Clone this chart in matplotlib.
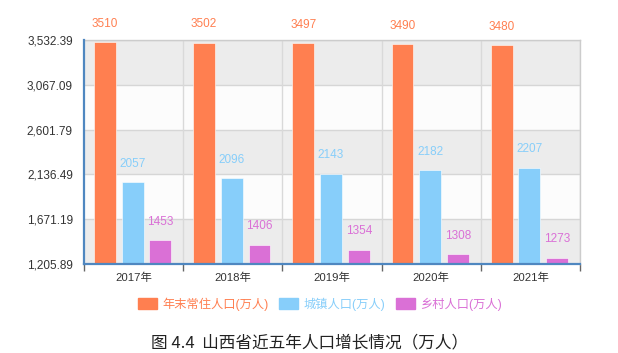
import numpy as np
import matplotlib
matplotlib.use('Agg')
import matplotlib.pyplot as plt
import matplotlib.patches as mpatches

plt.rcParams['font.family'] = ['Liberation Sans', 'Noto Sans CJK SC', 'DejaVu Sans']

# data
years = ['2017年', '2018年', '2019年', '2020年', '2021年']
total = [3510, 3502, 3497, 3490, 3480]
urban = [2057, 2096, 2143, 2182, 2207]
rural = [1453, 1406, 1354, 1308, 1273]
series_names = ['年末常住人口(万人)', '城镇人口(万人)', '乡村人口(万人)']
ytick_values = [1205.89, 1671.19, 2136.49, 2601.79, 3067.09, 3532.39]

colors = ['#ff7f50', '#87cefa', '#da70d6']

fig = plt.figure(figsize=(6.18, 3.53), dpi=100)
ax = fig.add_axes([84 / 618, 89 / 353, 496 / 618, 224 / 353])

# alternating background bands
for i in range(len(ytick_values) - 1):
    band = '#ececec' if i % 2 == 0 else '#fcfcfc'
    ax.axhspan(ytick_values[i], ytick_values[i + 1], color=band, lw=0, zorder=0)
for v in ytick_values[1:]:
    ax.axhline(v, color='#d6d6d6', lw=1, zorder=1)
for b in np.arange(-0.5, len(years), 1.0)[1:]:
    ax.axvline(b, color='#d9d9d9', lw=1, zorder=1)

x = np.arange(len(years))
offsets = [-0.29, -0.01, 0.27]
width = 0.22
for data, off, col in zip([total, urban, rural], offsets, colors):
    bars = ax.bar(x + off, data, width, color=col, zorder=2,
                  edgecolor='white', linewidth=0.4)
    for rect, val in zip(bars, data):
        ax.annotate(str(val), (rect.get_x() + rect.get_width() / 2, val),
                    xytext=(0, 9), textcoords='offset points',
                    ha='center', va='bottom', fontsize=8.5, color=col, zorder=3)

ax.set_xlim(-0.5, len(years) - 0.5)
ax.set_ylim(ytick_values[0], ytick_values[-1])
ax.set_yticks(ytick_values)
ax.set_yticklabels([f'{v:,.2f}' for v in ytick_values], fontsize=8.5, color='#333333')
ax.set_xticks(x)
ax.set_xticklabels(years, fontsize=8.2, color='#333333')
ax.set_xticks(np.arange(-0.5, len(years), 1.0), minor=True)
ax.tick_params(axis='x', which='major', length=0, pad=6)
ax.tick_params(axis='x', which='minor', length=5, width=1, color='#666666')
ax.tick_params(axis='y', length=0, pad=8)

for s in ['top', 'right']:
    ax.spines[s].set_color('#cccccc')
    ax.spines[s].set_linewidth(1)
for s in ['left', 'bottom']:
    ax.spines[s].set_color('#4f87c0')
    ax.spines[s].set_linewidth(1.6)
    ax.spines[s].set_zorder(4)

handles = [mpatches.Patch(color=c, label=n) for c, n in zip(colors, series_names)]
fig.legend(handles=handles, loc='center', bbox_to_anchor=(320 / 618, 1 - 304 / 353),
           ncol=3, frameon=False, fontsize=8.8, labelcolor=colors,
           handlelength=1.55, handleheight=1.0, handletextpad=0.4, columnspacing=0.9)

fig.text(310 / 618, 1 - 343 / 353, '图 4.4  山西省近五年人口增长情况（万人）',
         ha='center', va='center', fontsize=12, color='#222222',
         family=['Noto Sans CJK SC', 'DejaVu Sans'])

fig.savefig('out.png', dpi=100)
